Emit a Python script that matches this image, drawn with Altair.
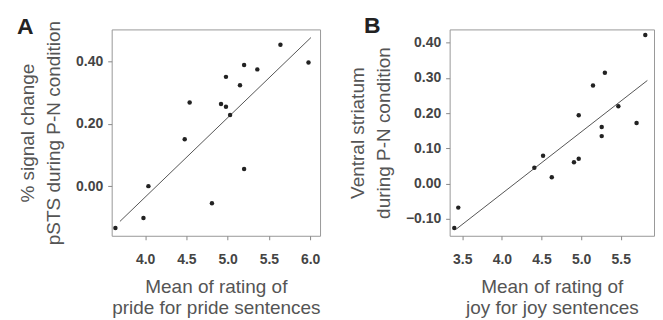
import altair as alt
import pandas as pd

# Panel A: pSTS signal change vs. pride rating
a_x = [3.64, 3.98, 4.04, 4.48, 4.54, 4.81, 4.92, 4.98, 4.98, 5.03, 5.15, 5.20, 5.20, 5.36, 5.64, 5.98]
a_y = [-0.134, -0.102, 0.00, 0.15, 0.268, -0.055, 0.263, 0.35, 0.254, 0.228, 0.323, 0.388, 0.055, 0.374, 0.453, 0.396]
a_fit_x = [3.695, 6.01]
a_fit_y = [-0.113, 0.476]

# Panel B: ventral striatum vs. joy rating
b_x = [3.40, 3.45, 4.41, 4.52, 4.63, 4.91, 4.97, 4.97, 5.15, 5.26, 5.26, 5.30, 5.47, 5.70, 5.81]
b_y = [-0.126, -0.068, 0.045, 0.079, 0.018, 0.061, 0.071, 0.194, 0.279, 0.161, 0.135, 0.315, 0.220, 0.172, 0.422]
b_fit_x = [3.425, 5.836]
b_fit_y = [-0.129, 0.293]

a_xticks = [4.0, 4.5, 5.0, 5.5, 6.0]
a_yticks = [0.0, 0.2, 0.4]
b_xticks = [3.5, 4.0, 4.5, 5.0, 5.5]
b_yticks = [-0.1, 0.0, 0.1, 0.2, 0.3, 0.4]

FONT = "Liberation Sans"


def panel(xs, ys, fx, fy, xdom, ydom, xvals, yvals, xtitle, ytitle, letter, w, h, tdx, tdy):
    pts = pd.DataFrame({"x": xs, "y": ys})
    fit = pd.DataFrame({"x": fx, "y": fy})
    xenc = alt.X(
        "x:Q",
        scale=alt.Scale(domain=xdom, nice=False, zero=False),
        axis=alt.Axis(values=xvals, format=".1f", title=xtitle,
                      titlePadding=11, titleLineHeight=21, labelPadding=13),
    )
    yenc = alt.Y(
        "y:Q",
        scale=alt.Scale(domain=ydom, nice=False, zero=False),
        axis=alt.Axis(values=yvals, format=".2f", title=ytitle,
                      titlePadding=12, titleLineHeight=26, labelPadding=5),
    )
    line = alt.Chart(fit).mark_line(color="#555555", strokeWidth=1).encode(x=xenc, y=yenc)
    dots = alt.Chart(pts).mark_circle(size=20, color="#222222", opacity=1).encode(x=xenc, y=yenc)
    return alt.layer(line, dots).properties(
        width=w,
        height=h,
        title=alt.TitleParams(
            text=letter, anchor="start", frame="group", fontSize=23,
            fontWeight="bold", font=FONT, color="#222222", dx=tdx, dy=tdy, offset=0,
        ),
    )


pa = panel(a_x, a_y, a_fit_x, a_fit_y, [3.595, 6.12], [-0.159, 0.502], a_xticks, a_yticks,
           ["Mean of rating of", "pride for pride sentences"],
           ["% signal change", "pSTS during P-N condition"], "A", 209, 207, -95, 19)
pb = panel(b_x, b_y, b_fit_x, b_fit_y, [3.341, 5.92], [-0.148, 0.438], b_xticks, b_yticks,
           ["Mean of rating of", "joy for joy sentences"],
           ["Ventral striatum", "during P-N condition"], "B", 205, 207, -86, 9)

chart = alt.hconcat(pa, pb, spacing=27).properties(
    padding={"top": 6, "left": 8, "right": 0, "bottom": 0}
).configure(
    background="white"
).configure_view(
    stroke="#999999", strokeWidth=1
).configure_axis(
    domain=False, grid=False, ticks=True, tickSize=4, tickColor="#888888",
    labelFont=FONT, labelFontSize=14, labelFontWeight="bold", labelColor="#444444",
    titleFont=FONT, titleFontSize=19, titleFontWeight="normal", titleColor="#555555",
)

chart.save("out.html", embed_options={"renderer": "svg", "actions": False})
